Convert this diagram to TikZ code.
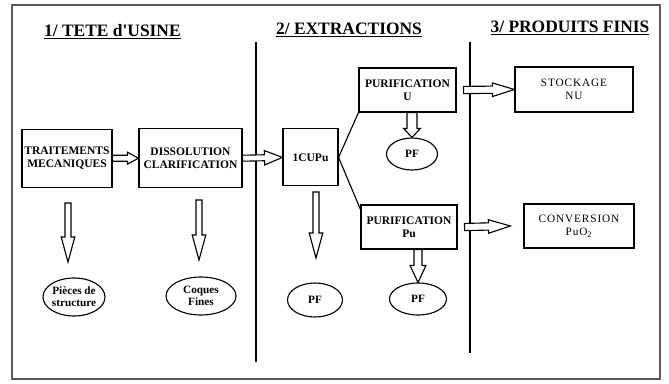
\documentclass[tikz,border=0pt]{standalone}
\usepackage{fontspec}
\setmainfont{Liberation Serif}
\usetikzlibrary{calc, shapes.geometric}

% hollow block arrow: from, to, half shaft, half head, head length
\newcommand{\hollowarrow}[5]{%
    \coordinate (hh) at ($(#2)!#5!(#1)$);
    \draw[hollow] ($(#1)!#3!90:(#2)$) -- ($(hh)!#3!-90:(#1)$) -- ($(hh)!#4!-90:(#1)$)
        -- (#2) -- ($(hh)!#4!90:(#1)$) -- ($(hh)!#3!90:(#1)$) -- ($(#1)!#3!-90:(#2)$) -- cycle;
}

\begin{document}
\begin{tikzpicture}[
    stage/.style={draw, thick, align=center, inner sep=1pt, font=\fontsize{8.2}{9.4}\selectfont\bfseries},
    store/.style={stage, font=\fontsize{8}{9.6}\selectfont\addfontfeatures{LetterSpace=8}},
    waste/.style={draw, thick, ellipse, inner sep=-3pt, align=center, font=\fontsize{8}{8.6}\selectfont\bfseries},
    title/.style={font=\fontsize{12.4}{14}\selectfont\bfseries},
    divider/.style={line width=0.9pt},
    hollow/.style={draw, thick, fill=white, line join=miter}
]
    \useasboundingbox (0,0) rectangle (16.725,9.575);
    \draw[gray!70!black, line width=1.2pt] (0.30,0.10) rectangle (16.50,9.45);

    % Section titles
    \node[title] (head) at (2.81,8.775) {\underline{1/ TETE d\textquotesingle USINE}};
    \node[title] (extr) at (8.725,8.825) {\underline{2/ EXTRACTIONS}};
    \node[title] (prod) at (14.25,8.875) {\underline{3/ PRODUITS FINIS}};

    \draw[divider] (6.40,8.525) -- (6.40,0.525);
    \draw[divider] (11.75,8.525) -- (11.75,0.75);

    % Head end
    \node[stage, minimum width=2.25cm, minimum height=1.45cm] (trait) at (1.675,5.62) {TRAITEMENTS\\MECANIQUES};
    \node[stage, minimum width=2.575cm, minimum height=1.475cm] (diss) at (4.7625,5.62) {DISSOLUTION\\CLARIFICATION};
    \node[waste, minimum width=1.55cm, minimum height=0.95cm] (pieces) at (1.85,2.15) {Pièces de\\structure};
    \node[waste, minimum width=1.75cm, minimum height=0.95cm] (coques) at (5.025,2.175) {Coques\\Fines};

    % Extractions
    \node[stage, minimum width=1.375cm, minimum height=1.425cm] (cupu) at (7.7625,5.64) {1CUPu};
    \node[stage, minimum width=2.425cm, minimum height=1.1cm] (purU) at (10.1875,7.325) {PURIFICATION\\U};
    \node[stage, minimum width=2.40cm, minimum height=1.1cm] (purPu) at (10.225,3.90) {PURIFICATION\\Pu};
    \node[waste, minimum width=1.375cm, minimum height=0.85cm] (pfCupu) at (7.875,2.075) {PF};
    \node[waste, minimum width=1.275cm, minimum height=0.80cm] (pfU) at (10.30,5.725) {PF};
    \node[waste, minimum width=1.425cm, minimum height=0.80cm] (pfPu) at (10.45,2.10) {PF};

    % Finished products
    \node[store, minimum width=2.95cm, minimum height=1.125cm] (stock) at (14.35,7.3375) {STOCKAGE\\NU};
    \node[store, minimum width=2.75cm, minimum height=1.1cm] (conv) at (14.475,3.925) {CONVERSION\\PuO\textsubscript{2}};

    % Free arrow ends
    \coordinate (dropA) at (1.70,4.50);
    \coordinate (landA) at (1.70,3.025);
    \coordinate (dropB) at (4.975,4.575);
    \coordinate (landB) at (4.975,3.075);
    \coordinate (dropC) at (7.90,4.775);
    \coordinate (landC) at (7.90,3.125);
    \coordinate (outU) at ([xshift=0.175cm]purU.east);
    \coordinate (outPu) at ([xshift=0.175cm]purPu.east);
    \coordinate (inConv) at ([xshift=-0.325cm]conv.west);
    \coordinate (downU) at ([xshift=0.1125cm]purU.south);
    \coordinate (downPu) at ([xshift=0.225cm]purPu.south);

    % Flow arrows
    \hollowarrow{trait.east}{diss.west}{0.075cm}{0.15cm}{0.275cm}
    \hollowarrow{diss.east}{cupu.west}{0.075cm}{0.18cm}{0.45cm}
    \hollowarrow{outU}{stock.west}{0.09cm}{0.17cm}{0.55cm}
    \hollowarrow{outPu}{inConv}{0.09cm}{0.17cm}{0.55cm}
    \hollowarrow{downU}{pfU.north}{0.125cm}{0.21cm}{0.225cm}
    \hollowarrow{downPu}{pfPu.north}{0.1cm}{0.2cm}{0.425cm}
    \hollowarrow{dropA}{landA}{0.075cm}{0.17cm}{0.625cm}
    \hollowarrow{dropB}{landB}{0.075cm}{0.17cm}{0.625cm}
    \hollowarrow{dropC}{landC}{0.075cm}{0.17cm}{0.625cm}

    % Split of the 1CUPu stream
    \draw[thick] (cupu.east) -- (purU.south west);
    \draw[thick] (cupu.east) -- ([yshift=-0.125cm]purPu.north west);
\end{tikzpicture}
\end{document}
